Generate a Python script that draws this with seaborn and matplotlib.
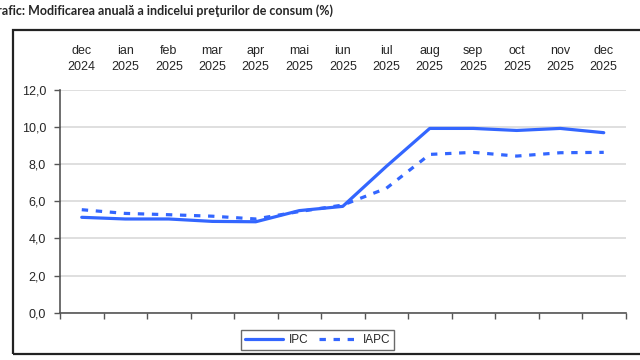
import numpy as np
import pandas as pd
import matplotlib
matplotlib.use("Agg")
import matplotlib.pyplot as plt
from matplotlib.patches import Rectangle
from matplotlib.lines import Line2D
import seaborn as sns

sns.set_style("white")
plt.rcParams['font.family'] = ['Liberation Sans', 'DejaVu Sans']

# data
months = ['dec\n2024', 'ian\n2025', 'feb\n2025', 'mar\n2025', 'apr\n2025', 'mai\n2025',
          'iun\n2025', 'iul\n2025', 'aug\n2025', 'sep\n2025', 'oct\n2025', 'nov\n2025',
          'dec\n2025']
ipc = [5.14, 5.05, 5.05, 4.92, 4.90, 5.50, 5.73, 7.88, 9.93, 9.93, 9.82, 9.93, 9.70]
iapc = [5.55, 5.35, 5.28, 5.20, 5.05, 5.45, 5.80, 6.70, 8.53, 8.64, 8.44, 8.62, 8.64]
yticks = [0, 2, 4, 6, 8, 10, 12]

df = pd.DataFrame({
    'luna': list(range(len(months))) * 2,
    'valoare': ipc + iapc,
    'serie': ['IPC'] * len(ipc) + ['IAPC'] * len(iapc),
})

blue = '#3366ff'
fig = plt.figure(figsize=(6.4, 3.6), dpi=100)
ax = fig.add_axes([60/640, 1 - 312.7/360, 565.5/640, 222.7/360])

sns.lineplot(data=df, x='luna', y='valoare', hue='serie', style='serie',
             palette={'IPC': blue, 'IAPC': blue},
             dashes={'IPC': '', 'IAPC': (2, 2.4)},
             linewidth=2.3, ax=ax, legend=False)

ax.set_xlim(-0.5, len(months) - 0.5)
ax.set_ylim(0, 12)
ax.set_yticks(yticks)
ax.set_yticklabels([f'{v:.1f}'.replace('.', ',') for v in yticks], fontsize=9)
ax.yaxis.grid(True, color='#d9d9d9', linewidth=1.2)
ax.set_axisbelow(True)

# month labels on top, ticks at category borders at the bottom
ax.set_xticks(range(len(months)))
ax.set_xticklabels(months, fontsize=9, linespacing=1.45)
ax.tick_params(axis='x', which='major', length=0, top=False, bottom=False,
               labeltop=True, labelbottom=False, pad=12)
ax.set_xticks(np.arange(-0.5, len(months)), minor=True)
ax.tick_params(axis='x', which='minor', length=4, width=1, color='#555555',
               bottom=True, direction='out')
ax.tick_params(axis='y', length=4, width=1, color='#555555', left=True, pad=6)
ax.set_xlabel('')
ax.set_ylabel('')

for s in ['top', 'right']:
    ax.spines[s].set_visible(False)
for s in ['left', 'bottom']:
    ax.spines[s].set_color('#555555')
    ax.spines[s].set_linewidth(1.2)

# legend
handles = [Line2D([], [], color=blue, lw=2.3),
           Line2D([], [], color=blue, lw=2.3, linestyle=(0, (2, 2.4)))]
leg = fig.legend(handles, ['IPC', 'IAPC'], loc='center', ncol=2,
                 bbox_to_anchor=(317.8/640, 1 - 340.3/360), fontsize=8.5,
                 frameon=True, fancybox=False, edgecolor='#444444',
                 handlelength=3.2, columnspacing=0.9, handletextpad=0.5,
                 borderpad=0.35, borderaxespad=0)
leg.get_frame().set_linewidth(1.0)

# outer chart border
fig.patches.append(Rectangle((13/640, 1 - 353.5/360), 0.99, (353.5 - 30)/360,
                             transform=fig.transFigure, fill=False,
                             edgecolor='#222222', linewidth=1.6))

fig.text(-12/640, 1 - 11/360, 'Grafic: Modificarea anuală a indicelui preţurilor de consum (%)',
         fontsize=9, fontweight='bold', family=['Lato', 'DejaVu Sans'], va='center', ha='left')

fig.savefig('out.png', dpi=100)
